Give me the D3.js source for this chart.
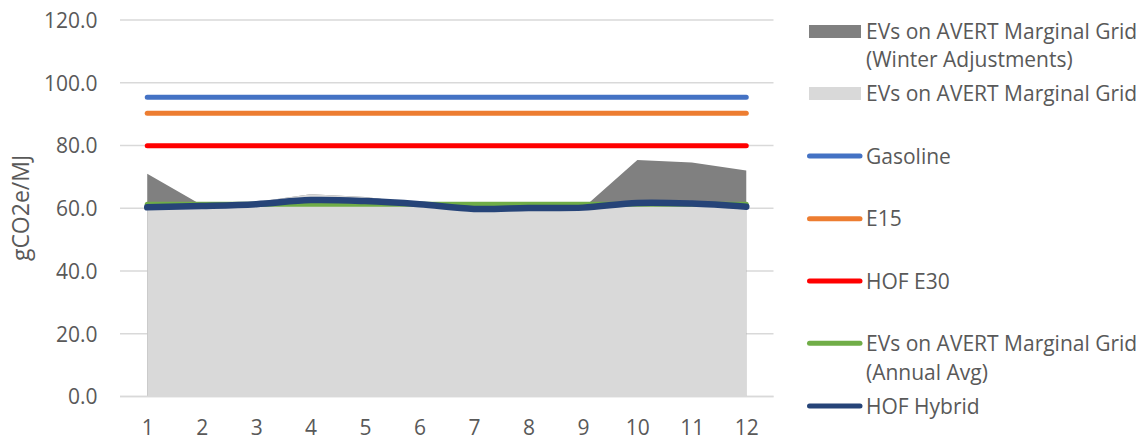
<!DOCTYPE html>
<html>
<head>
<meta charset="utf-8">
<script src="https://cdn.jsdelivr.net/npm/d3@7"></script>
<style>
  html, body { margin: 0; padding: 0; background: #ffffff; }
  svg { display: block; }
  text { font-family: "Open Sans", "Noto Sans", sans-serif; fill: #595959; }
</style>
</head>
<body>
<svg id="chart" width="1148" height="443"></svg>
<script>
// Months on the category axis
const months = [1, 2, 3, 4, 5, 6, 7, 8, 9, 10, 11, 12];

// Area series (gCO2e/MJ)
const evWinter   = [71.0, 61.0, 62.0, 64.5, 63.6, 61.5, 59.5, 60.0, 60.0, 75.4, 74.6, 72.0];
const evMarginal = [60.8, 61.5, 62.0, 64.5, 63.6, 61.5, 59.5, 60.0, 60.3, 61.5, 61.5, 60.8];

// Line series (gCO2e/MJ)
const gasoline  = [95.4, 95.4, 95.4, 95.4, 95.4, 95.4, 95.4, 95.4, 95.4, 95.4, 95.4, 95.4];
const e15       = [90.3, 90.3, 90.3, 90.3, 90.3, 90.3, 90.3, 90.3, 90.3, 90.3, 90.3, 90.3];
const hofE30    = [79.9, 79.9, 79.9, 79.9, 79.9, 79.9, 79.9, 79.9, 79.9, 79.9, 79.9, 79.9];
const evAnnual  = [61.3, 61.3, 61.3, 61.3, 61.3, 61.3, 61.3, 61.3, 61.3, 61.3, 61.3, 61.3];
const hofHybrid = [60.3, 60.7, 61.3, 62.6, 62.3, 61.3, 59.8, 60.1, 60.2, 61.7, 61.5, 60.5];

// Value-axis ticks
const yTicks = [0, 20, 40, 60, 80, 100, 120];

const svg = d3.select("#chart");

const x = d3.scalePoint().domain(months).range([120, 773.5]).padding(0.5);
const y = d3.scaleLinear().domain([0, 120]).range([396.5, 20]);

// Horizontal gridlines
svg.append("g")
  .selectAll("line")
  .data(yTicks)
  .join("line")
  .attr("x1", 120).attr("x2", 773.5)
  .attr("y1", d => y(d)).attr("y2", d => y(d))
  .attr("stroke", "#d9d9d9")
  .attr("stroke-width", 1.5);

// Value-axis labels
const yAxis = d3.axisLeft(y).tickValues(yTicks).tickFormat(d3.format(".1f")).tickSize(0).tickPadding(0);
svg.append("g")
  .attr("transform", "translate(97.5,0)")
  .call(yAxis)
  .call(g => g.select(".domain").remove())
  .call(g => g.selectAll("text")
    .attr("font-family", "Open Sans")
    .attr("font-size", 21)
    .attr("fill", "#595959")
    .attr("dy", "0.35em"));

// Axis title
svg.append("text")
  .attr("transform", "translate(29,208) rotate(-90)")
  .attr("text-anchor", "middle")
  .attr("font-size", 23)
  .text("gCO2e/MJ");

// Areas
const area = vals => d3.area()
  .x((d, i) => x(months[i]))
  .y0(y(0))
  .y1(d => y(d))(vals);

svg.append("path").attr("d", area(evWinter)).attr("fill", "#808080");
svg.append("path").attr("d", area(evMarginal)).attr("fill", "#d9d9d9");

// Category-axis baseline
svg.append("line")
  .attr("x1", 120).attr("x2", 773.5)
  .attr("y1", y(0)).attr("y2", y(0))
  .attr("stroke", "#d9d9d9").attr("stroke-width", 1.5);

// Category-axis labels
const xAxis = d3.axisBottom(x).tickSize(0).tickPadding(0);
svg.append("g")
  .attr("transform", "translate(0,428)")
  .call(xAxis)
  .call(g => g.select(".domain").remove())
  .call(g => g.selectAll("text")
    .attr("font-family", "Open Sans")
    .attr("font-size", 21)
    .attr("fill", "#595959")
    .attr("y", 0)
    .attr("dy", "0.35em"));

// Lines
const lineGen = d3.line()
  .x((d, i) => x(months[i]))
  .y(d => y(d))
  .curve(d3.curveCatmullRom.alpha(0.5));

const lineSeries = [
  { name: "Gasoline", values: gasoline, color: "#4472c4", width: 5 },
  { name: "E15", values: e15, color: "#ed7d31", width: 5 },
  { name: "HOF E30", values: hofE30, color: "#ff0000", width: 5 },
  { name: "EVs on AVERT Marginal Grid (Annual Avg)", values: evAnnual, color: "#70ad47", width: 5 },
  { name: "HOF Hybrid", values: hofHybrid, color: "#264478", width: 6.5 }
];

svg.append("g")
  .selectAll("path")
  .data(lineSeries)
  .join("path")
  .attr("d", d => lineGen(d.values))
  .attr("fill", "none")
  .attr("stroke", d => d.color)
  .attr("stroke-width", d => d.width)
  .attr("stroke-linecap", "round")
  .attr("stroke-linejoin", "round");

// Legend
const legend = svg.append("g");
const legendItems = [
  { type: "rect", color: "#808080", cy: 31.5, lines: ["EVs on AVERT Marginal Grid", "(Winter Adjustments)"], base: 38.5 },
  { type: "rect", color: "#d9d9d9", cy: 93.5, lines: ["EVs on AVERT Marginal Grid"], base: 100.5 },
  { type: "line", color: "#4472c4", cy: 156, lines: ["Gasoline"], base: 163.5 },
  { type: "line", color: "#ed7d31", cy: 218.7, lines: ["E15"], base: 226 },
  { type: "line", color: "#ff0000", cy: 281, lines: ["HOF E30"], base: 288.5 },
  { type: "line", color: "#70ad47", cy: 343.3, lines: ["EVs on AVERT Marginal Grid", "(Annual Avg)"], base: 351 },
  { type: "line", color: "#264478", cy: 406, lines: ["HOF Hybrid"], base: 413.5 }
];

legendItems.forEach(item => {
  if (item.type === "rect") {
    legend.append("rect")
      .attr("x", 809).attr("y", item.cy - 6.5)
      .attr("width", 52).attr("height", 13)
      .attr("fill", item.color);
  } else {
    legend.append("line")
      .attr("x1", 809.5).attr("x2", 860)
      .attr("y1", item.cy).attr("y2", item.cy)
      .attr("stroke", item.color)
      .attr("stroke-width", 5)
      .attr("stroke-linecap", "round");
  }
  item.lines.forEach((t, k) => {
    legend.append("text")
      .attr("x", 866)
      .attr("y", item.base + k * 28.5)
      .attr("font-size", 21)
      .text(t);
  });
});
</script>
</body>
</html>
